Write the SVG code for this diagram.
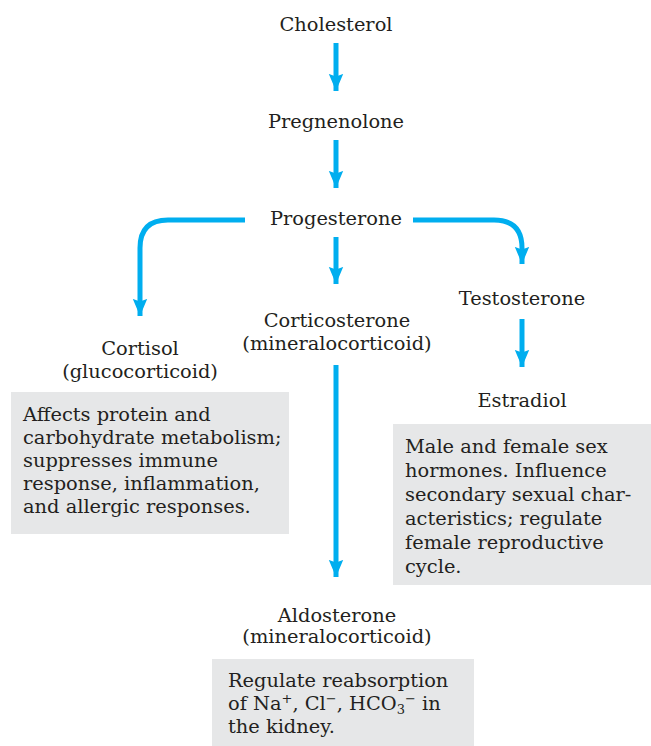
<svg xmlns="http://www.w3.org/2000/svg" width="651" height="746" viewBox="0 0 651 746">
<defs>
<marker id="ah" markerUnits="userSpaceOnUse" markerWidth="18" markerHeight="20" viewBox="0 0 20 18" refX="19" refY="9" orient="auto">
<path d="M0,1 L19,9 L0,17 L3,9 Z" fill="#00aeef"/>
</marker>
<style>
text{font-family:"DejaVu Serif","Liberation Serif",serif;font-size:19.4px;fill:#231f20}
.c{text-anchor:middle}
.box{fill:#e6e7e8}
.ln{fill:none;stroke:#00aeef;stroke-width:5}
</style>
</defs>
<g id="cholesterol"><text class="c" x="336" y="31">Cholesterol</text></g>
<g id="pregnenolone"><text class="c" x="336" y="128">Pregnenolone</text></g>
<g id="progesterone"><text class="c" x="336" y="225">Progesterone</text></g>
<g id="cortisol"><text class="c" x="140" y="355">Cortisol</text><text class="c" x="140" y="378">(glucocorticoid)</text></g>
<g id="corticosterone"><text class="c" x="337" y="327">Corticosterone</text><text class="c" x="337" y="350">(mineralocorticoid)</text></g>
<g id="testosterone"><text class="c" x="522" y="305">Testosterone</text></g>
<g id="estradiol"><text class="c" x="522" y="407">Estradiol</text></g>
<g id="aldosterone"><text class="c" x="337" y="622">Aldosterone</text><text class="c" x="337" y="643">(mineralocorticoid)</text></g>
<g id="cortisol-note"><rect class="box" x="11" y="392" width="278" height="142"/>
<text x="23" y="421">Affects protein and</text>
<text x="23" y="444">carbohydrate metabolism;</text>
<text x="23" y="467">suppresses immune</text>
<text x="23" y="490">response, inflammation,</text>
<text x="23" y="513">and allergic responses.</text></g>
<g id="sex-note"><rect class="box" x="393" y="424" width="258" height="161"/>
<text x="405" y="453">Male and female sex</text>
<text x="405" y="477">hormones. Influence</text>
<text x="405" y="501">secondary sexual char-</text>
<text x="405" y="525">acteristics; regulate</text>
<text x="405" y="549">female reproductive</text>
<text x="405" y="573">cycle.</text></g>
<g id="aldosterone-note"><rect class="box" x="212" y="659" width="262" height="87"/>
<text x="228" y="687">Regulate reabsorption</text>
<text x="228" y="710">of Na<tspan dy="-7" font-size="13">+</tspan><tspan dy="7">, Cl</tspan><tspan dy="-7" font-size="13">−</tspan><tspan dy="7">, HCO</tspan><tspan dy="4" font-size="13">3</tspan><tspan dy="-11" font-size="13">−</tspan><tspan dy="7"> in</tspan></text>
<text x="228" y="733">the kidney.</text></g>
<g id="connectors">
<path class="ln" d="M336,43 V91" marker-end="url(#ah)"/>
<path class="ln" d="M336,140 V188" marker-end="url(#ah)"/>
<path class="ln" d="M336,237 V284" marker-end="url(#ah)"/>
<path class="ln" d="M245,220 H168 Q140,220 140,248 V316" marker-end="url(#ah)"/>
<path class="ln" d="M413,220 H494 Q522,220 522,248 V264" marker-end="url(#ah)"/>
<path class="ln" d="M522,319 V367" marker-end="url(#ah)"/>
<path class="ln" d="M336,365 V577" marker-end="url(#ah)"/>
</g>
</svg>
